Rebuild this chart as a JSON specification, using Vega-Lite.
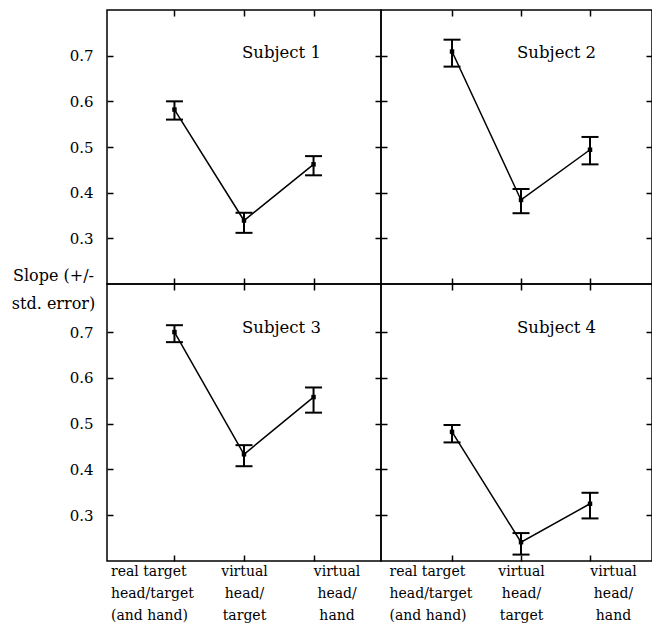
{
  "$schema": "https://vega.github.io/schema/vega-lite/v6.json",
  "background": "white",
  "padding": {"left": 10, "top": 8, "right": 0, "bottom": 0},
  "config": {
    "font": "DejaVu Serif",
    "view": {"stroke": "black", "strokeWidth": 1.5},
    "text": {"font": "DejaVu Serif"},
    "axis": {"labelFont": "DejaVu Serif", "titleFont": "DejaVu Serif", "labelColor": "black", "titleColor": "black", "tickColor": "black", "tickWidth": 1.5, "tickSize": -6, "domain": false, "grid": false}
  },
  "data": {"values": [
    {"subject": "Subject 1", "condition": "real target head/target (and hand)", "slope": 0.582, "lo": 0.560, "hi": 0.600},
    {"subject": "Subject 1", "condition": "virtual head/target", "slope": 0.339, "lo": 0.312, "hi": 0.356},
    {"subject": "Subject 1", "condition": "virtual head/hand", "slope": 0.462, "lo": 0.438, "hi": 0.480},
    {"subject": "Subject 2", "condition": "real target head/target (and hand)", "slope": 0.709, "lo": 0.676, "hi": 0.735},
    {"subject": "Subject 2", "condition": "virtual head/target", "slope": 0.384, "lo": 0.355, "hi": 0.408},
    {"subject": "Subject 2", "condition": "virtual head/hand", "slope": 0.494, "lo": 0.462, "hi": 0.522},
    {"subject": "Subject 3", "condition": "real target head/target (and hand)", "slope": 0.700, "lo": 0.678, "hi": 0.715},
    {"subject": "Subject 3", "condition": "virtual head/target", "slope": 0.433, "lo": 0.407, "hi": 0.453},
    {"subject": "Subject 3", "condition": "virtual head/hand", "slope": 0.558, "lo": 0.524, "hi": 0.579},
    {"subject": "Subject 4", "condition": "real target head/target (and hand)", "slope": 0.482, "lo": 0.459, "hi": 0.497},
    {"subject": "Subject 4", "condition": "virtual head/target", "slope": 0.241, "lo": 0.214, "hi": 0.261},
    {"subject": "Subject 4", "condition": "virtual head/hand", "slope": 0.325, "lo": 0.293, "hi": 0.349}
  ]},
  "columns": 2,
  "spacing": 0,
  "bounds": "flush",
  "concat": [
    {
      "width": 274, "height": 274,
      "transform": [{"filter": "datum.subject === 'Subject 1'"}],
      "resolve": {"axis": {"x": "independent", "y": "independent"}},
      "layer": [
        {"mark": {"type": "line", "color": "black", "strokeWidth": 1.5},
         "encoding": {
           "x": {"field": "condition", "type": "nominal", "scale": {"type": "point", "domain": ["real target head/target (and hand)", "virtual head/target", "virtual head/hand"], "padding": 0.97}, "axis": {"orient": "bottom", "labels": false, "title": null}},
           "y": {"field": "slope", "type": "quantitative", "scale": {"domain": [0.2, 0.8], "nice": false, "zero": false}, "axis": {"orient": "left", "values": [0.3, 0.4, 0.5, 0.6, 0.7], "format": ".1f", "labelPadding": 20, "labelFontSize": 15, "title": ["Slope (+/-", "std. error)"], "titleAngle": 0, "titleX": -54, "titleY": 270, "titleAlign": "center", "titleBaseline": "alphabetic", "titleFontSize": 16, "titleFontWeight": "normal", "titleLineHeight": 28}}
         }},
        {"mark": {"type": "rule", "color": "black", "strokeWidth": 2},
         "encoding": {
           "x": {"field": "condition", "type": "nominal", "axis": {"orient": "top", "labels": false, "title": null}},
           "y": {"field": "lo", "type": "quantitative", "axis": {"orient": "right", "values": [0.3, 0.4, 0.5, 0.6, 0.7], "labels": false, "title": null}},
           "y2": {"field": "hi"}
         }},
        {"mark": {"type": "tick", "color": "black", "size": 17, "thickness": 2, "opacity": 1},
         "encoding": {"x": {"field": "condition", "type": "nominal", "axis": null}, "y": {"field": "lo", "type": "quantitative", "axis": null}}},
        {"mark": {"type": "tick", "color": "black", "size": 17, "thickness": 2, "opacity": 1},
         "encoding": {"x": {"field": "condition", "type": "nominal", "axis": null}, "y": {"field": "hi", "type": "quantitative", "axis": null}}},
        {"mark": {"type": "point", "shape": "square", "filled": true, "color": "black", "size": 20, "opacity": 1},
         "encoding": {"x": {"field": "condition", "type": "nominal", "axis": null}, "y": {"field": "slope", "type": "quantitative", "axis": null}}},
        {"transform": [{"filter": "datum.condition === 'virtual head/target'"}],
         "mark": {"type": "text", "align": "left", "baseline": "alphabetic", "fontSize": 16.5, "color": "black", "dx": -2},
         "encoding": {"x": {"field": "condition", "type": "nominal", "axis": null}, "y": {"datum": 0.695, "type": "quantitative", "axis": null}, "text": {"field": "subject"}}}
      ]
    },
    {
      "width": 271, "height": 274,
      "transform": [{"filter": "datum.subject === 'Subject 2'"}],
      "resolve": {"axis": {"x": "independent", "y": "independent"}},
      "layer": [
        {"mark": {"type": "line", "color": "black", "strokeWidth": 1.5},
         "encoding": {
           "x": {"field": "condition", "type": "nominal", "scale": {"type": "point", "domain": ["real target head/target (and hand)", "virtual head/target", "virtual head/hand"], "padding": 0.964, "align": 0.534}, "axis": {"orient": "bottom", "labels": false, "title": null}},
           "y": {"field": "slope", "type": "quantitative", "scale": {"domain": [0.2, 0.8], "nice": false, "zero": false}, "axis": {"orient": "left", "values": [0.3, 0.4, 0.5, 0.6, 0.7], "labels": false, "title": null}}
         }},
        {"mark": {"type": "rule", "color": "black", "strokeWidth": 2},
         "encoding": {
           "x": {"field": "condition", "type": "nominal", "axis": {"orient": "top", "labels": false, "title": null}},
           "y": {"field": "lo", "type": "quantitative", "axis": {"orient": "right", "values": [0.3, 0.4, 0.5, 0.6, 0.7], "labels": false, "title": null}},
           "y2": {"field": "hi"}
         }},
        {"mark": {"type": "tick", "color": "black", "size": 17, "thickness": 2, "opacity": 1},
         "encoding": {"x": {"field": "condition", "type": "nominal", "axis": null}, "y": {"field": "lo", "type": "quantitative", "axis": null}}},
        {"mark": {"type": "tick", "color": "black", "size": 17, "thickness": 2, "opacity": 1},
         "encoding": {"x": {"field": "condition", "type": "nominal", "axis": null}, "y": {"field": "hi", "type": "quantitative", "axis": null}}},
        {"mark": {"type": "point", "shape": "square", "filled": true, "color": "black", "size": 20, "opacity": 1},
         "encoding": {"x": {"field": "condition", "type": "nominal", "axis": null}, "y": {"field": "slope", "type": "quantitative", "axis": null}}},
        {"transform": [{"filter": "datum.condition === 'virtual head/target'"}],
         "mark": {"type": "text", "align": "left", "baseline": "alphabetic", "fontSize": 16.5, "color": "black", "dx": -4},
         "encoding": {"x": {"field": "condition", "type": "nominal", "axis": null}, "y": {"datum": 0.695, "type": "quantitative", "axis": null}, "text": {"field": "subject"}}}
      ]
    },
    {
      "width": 274, "height": 277,
      "transform": [{"filter": "datum.subject === 'Subject 3'"}],
      "resolve": {"axis": {"x": "independent", "y": "independent"}},
      "layer": [
        {"mark": {"type": "line", "color": "black", "strokeWidth": 1.5},
         "encoding": {
           "x": {"field": "condition", "type": "nominal", "scale": {"type": "point", "domain": ["real target head/target (and hand)", "virtual head/target", "virtual head/hand"], "padding": 0.97}, "axis": {"orient": "bottom", "title": null, "labelFontSize": 14, "labelLineHeight": 22, "labelPadding": 9, "labelAngle": 0, "labelBaseline": "top",
             "labelExpr": "datum.value === 'real target head/target (and hand)' ? ['real target', 'head/target', '(and hand)'] : datum.value === 'virtual head/target' ? ['virtual', 'head/', 'target'] : ['virtual', 'head/', 'hand']",
             "labelAlign": {"condition": {"test": "datum.value === 'real target head/target (and hand)'", "value": "left"}, "value": "center"},
             "labelOffset": {"condition": [{"test": "datum.value === 'real target head/target (and hand)'", "value": -64}, {"test": "datum.value === 'virtual head/hand'", "value": 23}], "value": 0}}},
           "y": {"field": "slope", "type": "quantitative", "scale": {"domain": [0.2, 0.805], "nice": false, "zero": false}, "axis": {"orient": "left", "values": [0.3, 0.4, 0.5, 0.6, 0.7], "format": ".1f", "labelPadding": 20, "labelFontSize": 15, "title": null}}
         }},
        {"mark": {"type": "rule", "color": "black", "strokeWidth": 2},
         "encoding": {
           "x": {"field": "condition", "type": "nominal", "axis": {"orient": "top", "labels": false, "title": null}},
           "y": {"field": "lo", "type": "quantitative", "axis": {"orient": "right", "values": [0.3, 0.4, 0.5, 0.6, 0.7], "labels": false, "title": null}},
           "y2": {"field": "hi"}
         }},
        {"mark": {"type": "tick", "color": "black", "size": 17, "thickness": 2, "opacity": 1},
         "encoding": {"x": {"field": "condition", "type": "nominal", "axis": null}, "y": {"field": "lo", "type": "quantitative", "axis": null}}},
        {"mark": {"type": "tick", "color": "black", "size": 17, "thickness": 2, "opacity": 1},
         "encoding": {"x": {"field": "condition", "type": "nominal", "axis": null}, "y": {"field": "hi", "type": "quantitative", "axis": null}}},
        {"mark": {"type": "point", "shape": "square", "filled": true, "color": "black", "size": 20, "opacity": 1},
         "encoding": {"x": {"field": "condition", "type": "nominal", "axis": null}, "y": {"field": "slope", "type": "quantitative", "axis": null}}},
        {"transform": [{"filter": "datum.condition === 'virtual head/target'"}],
         "mark": {"type": "text", "align": "left", "baseline": "alphabetic", "fontSize": 16.5, "color": "black", "dx": -2},
         "encoding": {"x": {"field": "condition", "type": "nominal", "axis": null}, "y": {"datum": 0.699, "type": "quantitative", "axis": null}, "text": {"field": "subject"}}}
      ]
    },
    {
      "width": 271, "height": 277,
      "transform": [{"filter": "datum.subject === 'Subject 4'"}],
      "resolve": {"axis": {"x": "independent", "y": "independent"}},
      "layer": [
        {"mark": {"type": "line", "color": "black", "strokeWidth": 1.5},
         "encoding": {
           "x": {"field": "condition", "type": "nominal", "scale": {"type": "point", "domain": ["real target head/target (and hand)", "virtual head/target", "virtual head/hand"], "padding": 0.964, "align": 0.534}, "axis": {"orient": "bottom", "title": null, "labelFontSize": 14, "labelLineHeight": 22, "labelPadding": 9, "labelAngle": 0, "labelBaseline": "top",
             "labelExpr": "datum.value === 'real target head/target (and hand)' ? ['real target', 'head/target', '(and hand)'] : datum.value === 'virtual head/target' ? ['virtual', 'head/', 'target'] : ['virtual', 'head/', 'hand']",
             "labelAlign": {"condition": {"test": "datum.value === 'real target head/target (and hand)'", "value": "left"}, "value": "center"},
             "labelOffset": {"condition": [{"test": "datum.value === 'real target head/target (and hand)'", "value": -63}, {"test": "datum.value === 'virtual head/hand'", "value": 23}], "value": 0}}},
           "y": {"field": "slope", "type": "quantitative", "scale": {"domain": [0.2, 0.805], "nice": false, "zero": false}, "axis": {"orient": "left", "values": [0.3, 0.4, 0.5, 0.6, 0.7], "labels": false, "title": null}}
         }},
        {"mark": {"type": "rule", "color": "black", "strokeWidth": 2},
         "encoding": {
           "x": {"field": "condition", "type": "nominal", "axis": {"orient": "top", "labels": false, "title": null}},
           "y": {"field": "lo", "type": "quantitative", "axis": {"orient": "right", "values": [0.3, 0.4, 0.5, 0.6, 0.7], "labels": false, "title": null}},
           "y2": {"field": "hi"}
         }},
        {"mark": {"type": "tick", "color": "black", "size": 17, "thickness": 2, "opacity": 1},
         "encoding": {"x": {"field": "condition", "type": "nominal", "axis": null}, "y": {"field": "lo", "type": "quantitative", "axis": null}}},
        {"mark": {"type": "tick", "color": "black", "size": 17, "thickness": 2, "opacity": 1},
         "encoding": {"x": {"field": "condition", "type": "nominal", "axis": null}, "y": {"field": "hi", "type": "quantitative", "axis": null}}},
        {"mark": {"type": "point", "shape": "square", "filled": true, "color": "black", "size": 20, "opacity": 1},
         "encoding": {"x": {"field": "condition", "type": "nominal", "axis": null}, "y": {"field": "slope", "type": "quantitative", "axis": null}}},
        {"transform": [{"filter": "datum.condition === 'virtual head/target'"}],
         "mark": {"type": "text", "align": "left", "baseline": "alphabetic", "fontSize": 16.5, "color": "black", "dx": -4},
         "encoding": {"x": {"field": "condition", "type": "nominal", "axis": null}, "y": {"datum": 0.699, "type": "quantitative", "axis": null}, "text": {"field": "subject"}}}
      ]
    }
  ]
}
